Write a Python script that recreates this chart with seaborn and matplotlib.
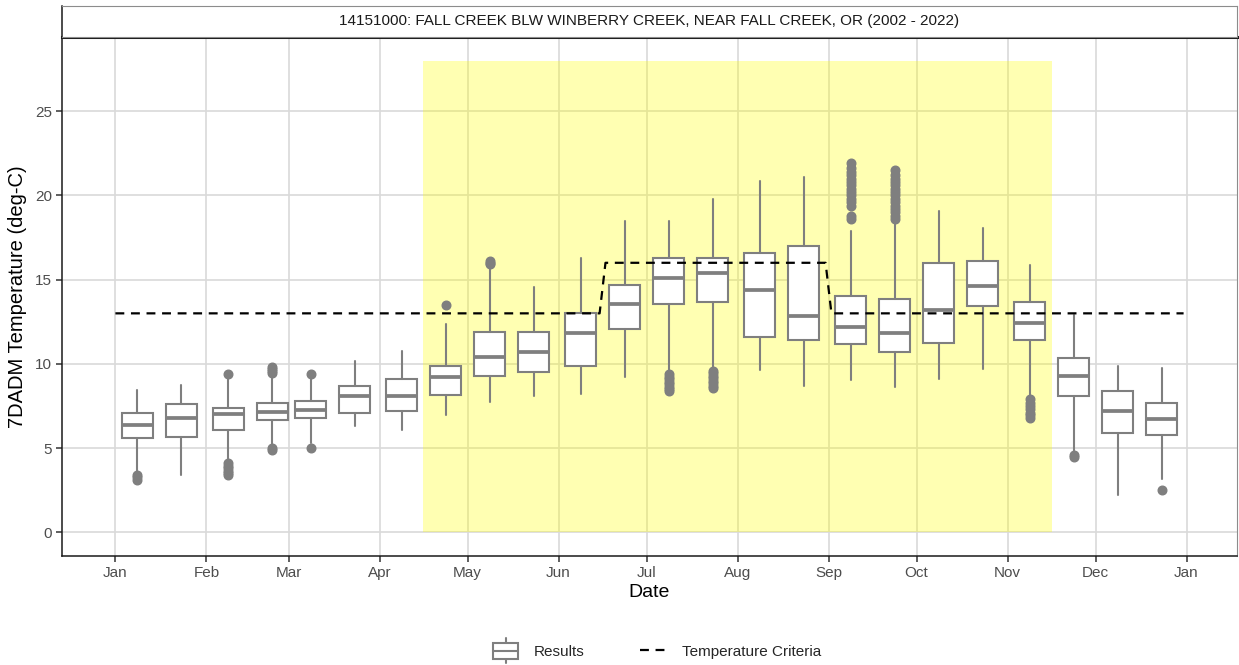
import numpy as np
import pandas as pd
import matplotlib
matplotlib.use("Agg")
import matplotlib.pyplot as plt
import matplotlib.dates as mdates
from matplotlib.patches import Rectangle
from matplotlib.lines import Line2D
from matplotlib.legend_handler import HandlerBase
import seaborn as sns

# ---------------- data ----------------
title = "14151000: FALL CREEK BLW WINBERRY CREEK, NEAR FALL CREEK, OR (2002 - 2022)"
months = ["01", "02", "03", "04", "05", "06", "07", "08", "09", "10", "11", "12"]
box_dates = []
for m in months:
    box_dates += [f"2022-{m}-08 12:00", f"2022-{m}-23 12:00"]

whisker_low = [3.5, 3.42, 4.3, 5.2, 5.3, 6.30, 6.10, 6.99, 7.72, 8.12, 8.21, 9.20,
               9.5, 9.8, 9.66, 8.71, 9.02, 8.63, 9.10, 9.70, 8.1, 4.8, 2.21, 3.14]
q1 = [5.63, 5.69, 6.08, 6.67, 6.77, 7.07, 7.19, 8.18, 9.30, 9.50, 9.86, 12.07,
      13.58, 13.68, 11.61, 11.39, 11.20, 10.72, 11.24, 13.41, 11.41, 8.12, 5.90, 5.81]
median = [6.40, 6.81, 7.01, 7.13, 7.25, 8.10, 8.10, 9.20, 10.41, 10.71, 11.83, 13.58,
          15.11, 15.38, 14.40, 12.82, 12.18, 11.83, 13.17, 14.61, 12.42, 9.30, 7.19, 6.73]
q3 = [7.09, 7.62, 7.40, 7.70, 7.80, 8.71, 9.10, 9.86, 11.89, 11.89, 13.05, 14.67,
      16.31, 16.29, 16.59, 17.00, 14.00, 13.86, 15.98, 16.09, 13.67, 10.35, 8.37, 7.68]
whisker_high = [8.47, 8.75, 9.2, 9.2, 9.2, 10.19, 10.78, 12.36, 15.7, 14.55, 16.27, 18.48,
                18.48, 19.77, 20.88, 21.07, 17.89, 18.37, 19.08, 18.09, 15.88, 12.89, 9.86, 9.76]
outliers = [
    [3.4, 3.3, 3.1],
    [],
    [9.4, 4.1, 3.95, 3.8, 3.65, 3.5, 3.4],
    [9.45, 9.55, 9.7, 9.8, 5.0, 4.9],
    [9.4, 5.0],
    [],
    [],
    [13.51],
    [15.9, 16.0, 16.1],
    [],
    [],
    [],
    [9.4, 9.25, 9.1, 8.95, 8.8, 8.65, 8.5, 8.4],
    [9.6, 9.45, 9.3, 9.15, 9.0, 8.85, 8.7, 8.55],
    [],
    [],
    [18.6, 18.8, 19.4, 19.6, 19.8, 20.0, 20.2, 20.4, 20.6, 20.8, 21.0, 21.2, 21.4, 21.6, 21.9],
    [18.6, 18.8, 19.0, 19.2, 19.4, 19.6, 19.8, 20.0, 20.2, 20.4, 20.6, 20.8, 21.0, 21.2, 21.5],
    [],
    [],
    [7.9, 7.7, 7.5, 7.3, 7.1, 6.95, 6.8],
    [4.6, 4.5],
    [],
    [2.51],
]

crit_dates = ["2022-01-01", "2022-06-15", "2022-06-17", "2022-08-31", "2022-09-02", "2022-12-31"]
crit_values = [13, 13, 16, 16, 13, 13]

spawn_start = "2022-04-15 18:00"
spawn_end = "2022-11-16"
spawn_top = 28

month_ticks = pd.date_range("2022-01-01", "2023-01-01", freq="MS")

# ---------------- style ----------------
sns.set_theme(style="white")
plt.rcParams['font.family'] = ['Liberation Sans', 'DejaVu Sans']

GREY = "#7F7F7F"

fig = plt.figure(figsize=(12.39, 6.65), dpi=100)
W, H = 1239, 665
ax = fig.add_axes([62 / W, 109 / H, 1175 / W, 519 / H])
sax = fig.add_axes([62 / W, 628 / H, 1175 / W, 31 / H])

pos = mdates.date2num(pd.to_datetime(box_dates))
d0 = mdates.date2num(pd.Timestamp("2022-01-01"))
d1 = mdates.date2num(pd.Timestamp("2022-12-31"))
pad = (d1 - d0) * 0.05

# spawning period shading
s0 = mdates.date2num(pd.Timestamp(spawn_start))
s1 = mdates.date2num(pd.Timestamp(spawn_end))
ax.add_patch(Rectangle((s0, 0), s1 - s0, spawn_top, facecolor="yellow", alpha=0.3,
                       linewidth=0, zorder=1))

# boxplots
stats = []
for i in range(len(box_dates)):
    stats.append(dict(med=median[i], q1=q1[i], q3=q3[i], whislo=whisker_low[i],
                      whishi=whisker_high[i], fliers=outliers[i]))
ax.bxp(stats, positions=pos, widths=10.5, patch_artist=True, showcaps=False,
       boxprops=dict(facecolor="white", edgecolor=GREY, linewidth=1.5),
       medianprops=dict(color=GREY, linewidth=2.7, solid_capstyle="butt"),
       whiskerprops=dict(color=GREY, linewidth=1.5),
       flierprops=dict(marker="o", markerfacecolor=GREY, markeredgecolor=GREY,
                       markersize=6.2),
       zorder=3, manage_ticks=False)

# temperature criteria
crit_df = pd.DataFrame({"date": mdates.date2num(pd.to_datetime(crit_dates)),
                        "value": crit_values})
sns.lineplot(data=crit_df, x="date", y="value", ax=ax, color="black", linewidth=1.6,
             linestyle=(0, (4, 3)), legend=False, zorder=4, sort=False, estimator=None)

ax.set_xlim(d0 - pad, d1 + pad)
ax.set_ylim(-1.4, 29.4)
ax.set_xticks(mdates.date2num(month_ticks))
ax.set_xticklabels([d.strftime("%b") for d in month_ticks])
ax.set_yticks([0, 5, 10, 15, 20, 25])
ax.grid(True, which="major", color="#D9D9D9", linewidth=1.2)
ax.set_axisbelow(True)

for side in ["left", "bottom"]:
    ax.spines[side].set_color("#1A1A1A")
    ax.spines[side].set_linewidth(1.1)
ax.spines["top"].set_color("#1A1A1A")
ax.spines["top"].set_linewidth(2.2)
ax.spines["right"].set_color("#8C8C8C")
ax.spines["right"].set_linewidth(0.8)
ax.tick_params(axis="both", direction="out", length=4, width=1.1, color="#333333",
               labelcolor="#4D4D4D", labelsize=11, pad=3,
               bottom=True, left=True, top=False, right=False)
ax.set_xlabel("Date", fontsize=14, color="black", labelpad=3)
ax.set_ylabel("7DADM Temperature (deg-C)", fontsize=14.5, color="black", labelpad=6)

# strip
sax.set_facecolor("white")
sax.set_xticks([])
sax.set_yticks([])
for side in ["top", "right", "bottom"]:
    sax.spines[side].set_color("#8C8C8C")
    sax.spines[side].set_linewidth(0.8)
sax.spines["left"].set_color("#1A1A1A")
sax.spines["left"].set_linewidth(1.1)
sax.text(0.5, 0.5, title, ha="center", va="center", fontsize=11, color="#1A1A1A",
         transform=sax.transAxes)


# legend
class BoxKey:
    pass


class BoxHandler(HandlerBase):
    def create_artists(self, legend, orig_handle, xdescent, ydescent, width, height,
                       fontsize, trans):
        x0 = -xdescent
        y0 = -ydescent
        cy = y0 + height / 2
        bw = width * 0.9
        bx0 = x0 + (width - bw) / 2
        cx = x0 + width / 2
        bh = 11.5  # points
        rect = Rectangle((bx0, cy - bh / 2), bw, bh, facecolor="white",
                         edgecolor=GREY, linewidth=1.5, transform=trans)
        med = Line2D([bx0, bx0 + bw], [cy, cy], color=GREY, lw=1.5, transform=trans)
        wlo = Line2D([cx, cx], [cy - bh / 2 - 3.5, cy - bh / 2], color=GREY,
                     lw=1.5, transform=trans)
        whi = Line2D([cx, cx], [cy + bh / 2, cy + bh / 2 + 3.5], color=GREY,
                     lw=1.5, transform=trans)
        return [wlo, whi, rect, med]


crit_handle = Line2D([], [], color="black", linewidth=1.6, linestyle=(0, (4, 3)))
fig.legend(handles=[BoxKey(), crit_handle], labels=["Results", "Temperature Criteria"],
           handler_map={BoxKey: BoxHandler()}, loc="center",
           bbox_to_anchor=(0.530, 0.021), ncol=2, frameon=False, fontsize=11,
           handlelength=1.75, handleheight=1.1, handletextpad=1.0, columnspacing=3.6)

fig.savefig("out.png", dpi=100, facecolor="white")
